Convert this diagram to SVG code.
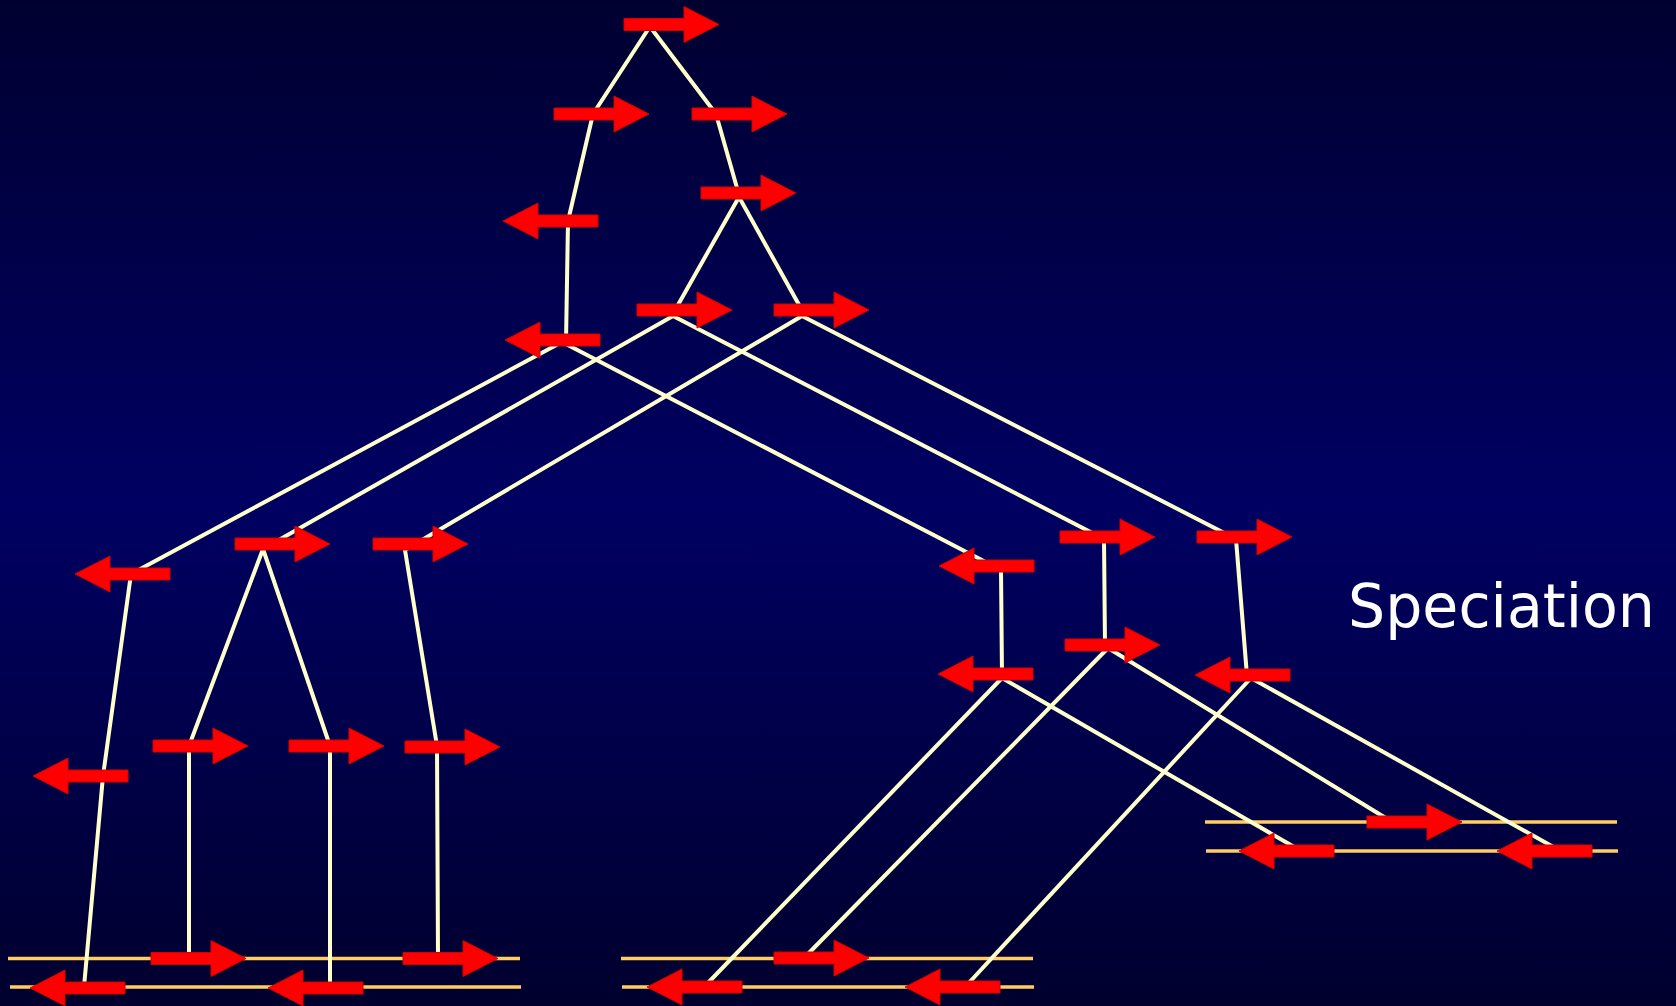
<svg xmlns="http://www.w3.org/2000/svg" xmlns:xlink="http://www.w3.org/1999/xlink" width="1676" height="1006" viewBox="0 0 1676 1006">
  <defs>
    <linearGradient id="bg" x1="0" y1="0" x2="0" y2="1">
      <stop offset="0" stop-color="#000030"/>
      <stop offset="0.5" stop-color="#000062"/>
      <stop offset="1" stop-color="#00002e"/>
    </linearGradient>
    <!-- right-pointing block arrow, origin at the shaft's left end -->
    <path id="arR" d="M0,-6 H60 V-18 L95,0 L60,18 V6 H0 Z"/>
    <!-- left-pointing block arrow, origin at the tip -->
    <path id="arL" d="M0,0 L35,-18 V-6 H95 V6 H35 V18 Z"/>
  </defs>
  <style>
    .branch { fill: none; stroke: #ffffcc; stroke-width: 4; stroke-linejoin: round; }
    .gene { stroke: #ffcc66; stroke-width: 3.5; }
    .arrow { fill: #ff0000; stroke: #d40000; stroke-width: 1; }
    .label { font-family: "DejaVu Sans", "Noto Sans", sans-serif; font-size: 61px; fill: #ffffff; }
  </style>

  <rect x="0" y="0" width="1676" height="1006" fill="url(#bg)"/>

  <!-- chromosome pairs at the tips -->
  <g id="tips">
    <line class="gene" x1="8" y1="958.5" x2="520" y2="958.5"/>
    <line class="gene" x1="10" y1="987" x2="521" y2="987"/>
    <line class="gene" x1="621" y1="958.5" x2="1033" y2="958.5"/>
    <line class="gene" x1="622" y1="987" x2="1034" y2="987"/>
    <line class="gene" x1="1205" y1="822" x2="1617" y2="822"/>
    <line class="gene" x1="1206" y1="851" x2="1618" y2="851"/>
  </g>

  <!-- tree branches -->
  <g id="connectors">
    <!-- root split -->
    <polyline class="branch" points="649,28 593,114 568,221 566,342"/>
    <polyline class="branch" points="651,28 716,114 739,195"/>
    <polyline class="branch" points="739,197 674,312"/>
    <polyline class="branch" points="739,197 803,312"/>
    <!-- left node -->
    <polyline class="branch" points="562,342 131,574 103,776 84,987"/>
    <polyline class="branch" points="562,342 1001,570 1002,676"/>
    <!-- middle node -->
    <polyline class="branch" points="673,316 263,549"/>
    <polyline class="branch" points="673,316 1104,539 1105,646"/>
    <!-- right node -->
    <polyline class="branch" points="802,316 405,550 437,746 438,958"/>
    <polyline class="branch" points="802,316 1236,539 1247,676"/>
    <!-- left clade -->
    <polyline class="branch" points="263,549 189,746 189,958"/>
    <polyline class="branch" points="263,549 330,746 330,987"/>
    <!-- right clade -->
    <polyline class="branch" points="1002,678 705,986"/>
    <polyline class="branch" points="1002,678 1296,848"/>
    <polyline class="branch" points="1108,648 804,958"/>
    <polyline class="branch" points="1108,648 1389,820"/>
    <polyline class="branch" points="1251,678 966,986"/>
    <polyline class="branch" points="1251,678 1557,849"/>
  </g>

  <!-- mutation arrows pointing right -->
  <g id="arrow-r1" class="arrow"><use xlink:href="#arR" x="624" y="24.5"/></g>
  <g id="arrow-r2" class="arrow"><use xlink:href="#arR" x="554" y="114"/></g>
  <g id="arrow-r3" class="arrow"><use xlink:href="#arR" x="692" y="114"/></g>
  <g id="arrow-r4" class="arrow"><use xlink:href="#arR" x="701" y="193"/></g>
  <g id="arrow-r5" class="arrow"><use xlink:href="#arR" x="637" y="310"/></g>
  <g id="arrow-r6" class="arrow"><use xlink:href="#arR" x="774" y="310"/></g>
  <g id="arrow-r7" class="arrow"><use xlink:href="#arR" x="235" y="544"/></g>
  <g id="arrow-r8" class="arrow"><use xlink:href="#arR" x="373" y="544"/></g>
  <g id="arrow-r9" class="arrow"><use xlink:href="#arR" x="1060" y="537"/></g>
  <g id="arrow-r10" class="arrow"><use xlink:href="#arR" x="1197" y="537"/></g>
  <g id="arrow-r11" class="arrow"><use xlink:href="#arR" x="1065" y="645"/></g>
  <g id="arrow-r12" class="arrow"><use xlink:href="#arR" x="153" y="746"/></g>
  <g id="arrow-r13" class="arrow"><use xlink:href="#arR" x="289" y="746"/></g>
  <g id="arrow-r14" class="arrow"><use xlink:href="#arR" x="405" y="747"/></g>
  <g id="arrow-r15" class="arrow"><use xlink:href="#arR" x="151" y="958.5"/></g>
  <g id="arrow-r16" class="arrow"><use xlink:href="#arR" x="403" y="958.5"/></g>
  <g id="arrow-r17" class="arrow"><use xlink:href="#arR" x="774" y="958"/></g>
  <g id="arrow-r18" class="arrow"><use xlink:href="#arR" x="1367" y="822"/></g>

  <!-- mutation arrows pointing left -->
  <g id="arrow-l1" class="arrow"><use xlink:href="#arL" x="503" y="221"/></g>
  <g id="arrow-l2" class="arrow"><use xlink:href="#arL" x="505" y="340"/></g>
  <g id="arrow-l3" class="arrow"><use xlink:href="#arL" x="75" y="574"/></g>
  <g id="arrow-l4" class="arrow"><use xlink:href="#arL" x="939" y="566"/></g>
  <g id="arrow-l5" class="arrow"><use xlink:href="#arL" x="938" y="674"/></g>
  <g id="arrow-l6" class="arrow"><use xlink:href="#arL" x="1195" y="675"/></g>
  <g id="arrow-l7" class="arrow"><use xlink:href="#arL" x="33" y="776"/></g>
  <g id="arrow-l8" class="arrow"><use xlink:href="#arL" x="30" y="988"/></g>
  <g id="arrow-l9" class="arrow"><use xlink:href="#arL" x="268" y="988"/></g>
  <g id="arrow-l10" class="arrow"><use xlink:href="#arL" x="647" y="987"/></g>
  <g id="arrow-l11" class="arrow"><use xlink:href="#arL" x="905" y="987"/></g>
  <g id="arrow-l12" class="arrow"><use xlink:href="#arL" x="1239" y="851"/></g>
  <g id="arrow-l13" class="arrow"><use xlink:href="#arL" x="1497" y="851"/></g>

  <g id="speciation-label">
    <text class="label" x="1348" y="627" textLength="307" lengthAdjust="spacingAndGlyphs">Speciation</text>
  </g>
</svg>
